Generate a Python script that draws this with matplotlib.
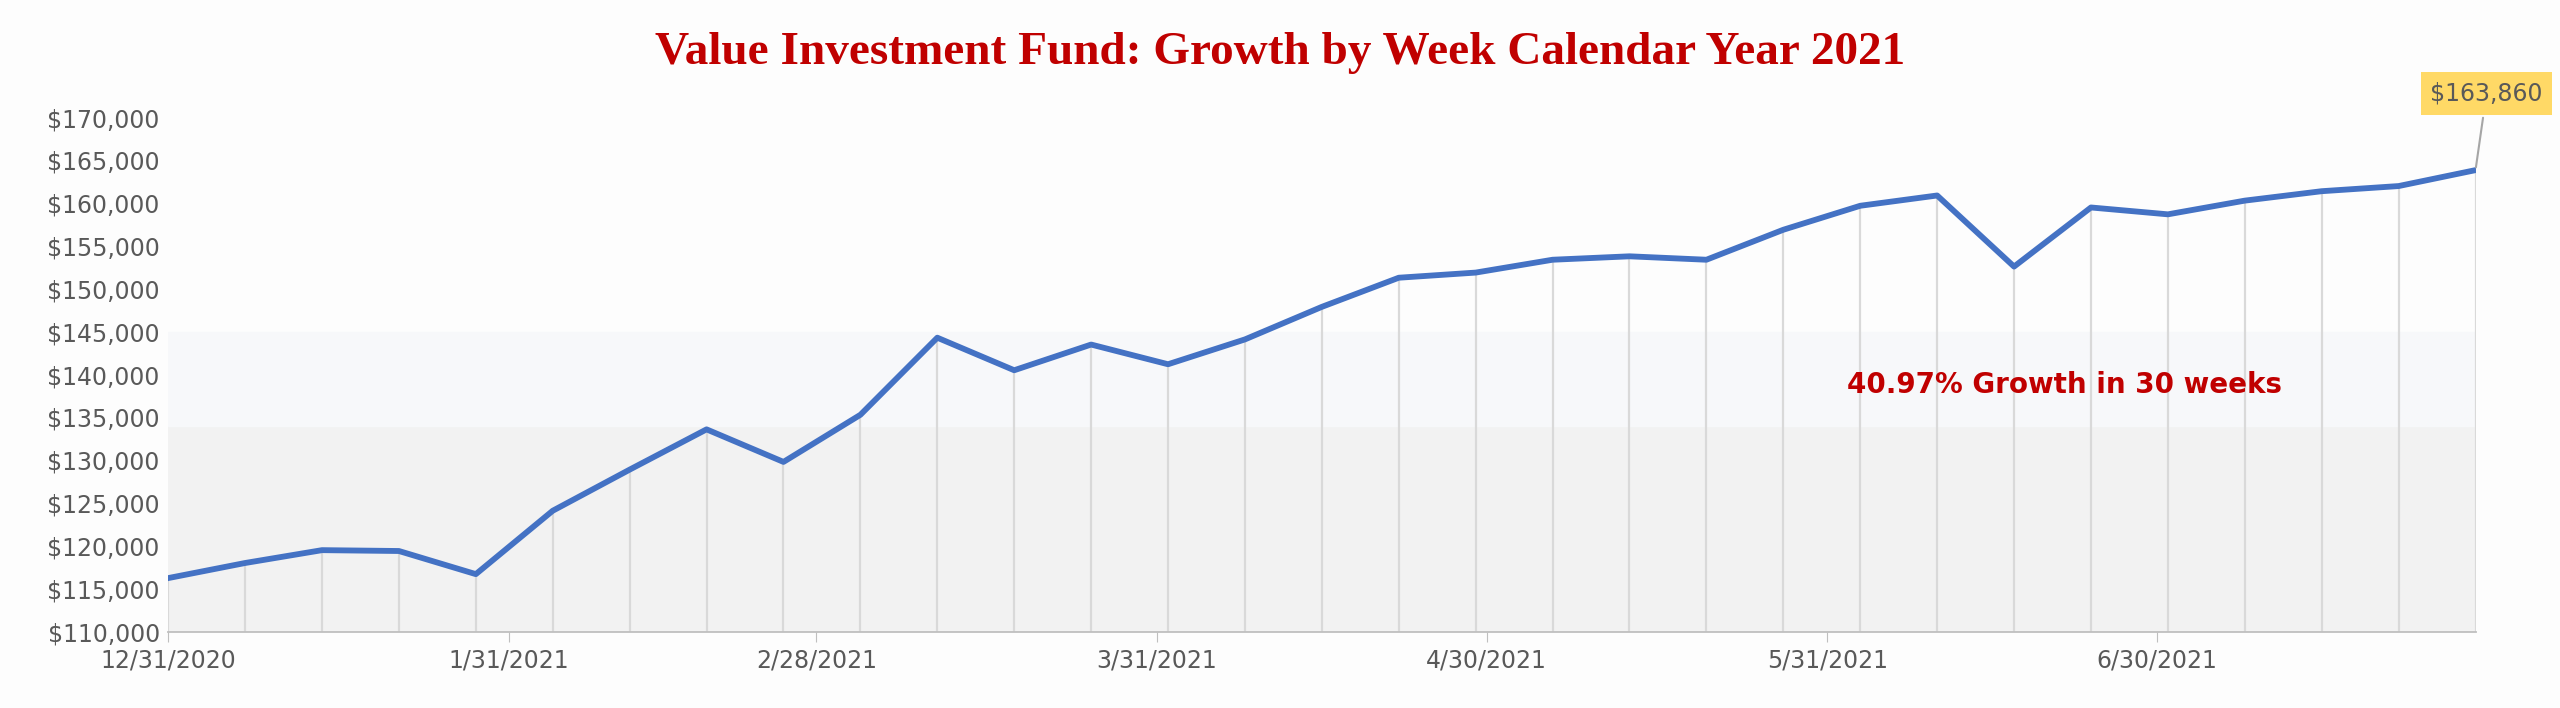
import matplotlib
matplotlib.use("Agg")
import matplotlib.pyplot as plt
import pandas as pd
import numpy as np

dates = pd.date_range("2020-12-31", periods=31, freq="7D")
values = [116238, 118000, 119500, 119400, 116700, 124100, 128900, 133600, 129800, 135300,
          144300, 140500, 143500, 141200, 144100, 147900, 151300, 151900, 153400, 153800,
          153400, 156900, 159700, 160900, 152600, 159500, 158700, 160300, 161400, 162000, 163860]
tick_dates = pd.to_datetime(["2020-12-31", "2021-01-31", "2021-02-28", "2021-03-31",
                             "2021-04-30", "2021-05-31", "2021-06-30"])
tick_labels = ["12/31/2020", "1/31/2021", "2/28/2021", "3/31/2021", "4/30/2021", "5/31/2021", "6/30/2021"]
band_light = (134000, 145000)
band_gray = (110000, 134000)
title = "Value Investment Fund: Growth by Week Calendar Year 2021"
annot = "40.97% Growth in 30 weeks"

fig = plt.figure(figsize=(25.6, 7.08), dpi=100, facecolor="#fdfdfd")
ax = fig.add_axes([0.0657, 0.108, 0.9013, 0.726])
ax.set_facecolor("#fdfdfd")
ax.set_xlim(dates[0], dates[-1])
ax.set_ylim(110000, 170000)
ax.axhspan(*band_gray, color="#f2f2f2", zorder=0)
ax.axhspan(*band_light, color="#f7f8fa", zorder=0)
ax.vlines(dates, 110000, values, color="#d9d9d9", lw=1.6, zorder=1)
ax.plot(dates, values, color="#4472c4", lw=4.2, zorder=3)
ax.set_yticks(np.arange(110000, 170001, 5000))
ax.set_yticklabels([f"${v:,.0f}" for v in np.arange(110000, 170001, 5000)])
ax.set_xticks(tick_dates)
ax.set_xticklabels(tick_labels)
ax.tick_params(axis="y", length=0, labelsize=17, colors="#595959", pad=6)
ax.tick_params(axis="x", length=7, color="#bfbfbf", labelsize=17, labelcolor="#595959", pad=5)
for s in ["top", "right", "left"]:
    ax.spines[s].set_visible(False)
ax.spines["bottom"].set_color("#bfbfbf")
ax.spines["bottom"].set_linewidth(1.3)
fig.text(0.5, 0.925, title, ha="center", va="center", fontsize=34, fontweight="bold",
         family="Liberation Serif", color="#c00000")
ax.text(0.822, 0.48, annot, transform=ax.transAxes, ha="center", va="center",
        fontsize=20, fontweight="bold", color="#c00000")
ax.annotate(f"${values[-1]:,.0f}", xy=(dates[-1], values[-1]),
            xytext=(dates[-1] + pd.Timedelta(days=1), 172800), ha="center", va="center",
            fontsize=17, color="#595959", annotation_clip=False,
            bbox=dict(boxstyle="square,pad=0.4", fc="#ffd966", ec="none"),
            arrowprops=dict(arrowstyle="-", color="#a6a6a6", lw=1.5))
fig.savefig("out.png", dpi=100, facecolor=fig.get_facecolor())
